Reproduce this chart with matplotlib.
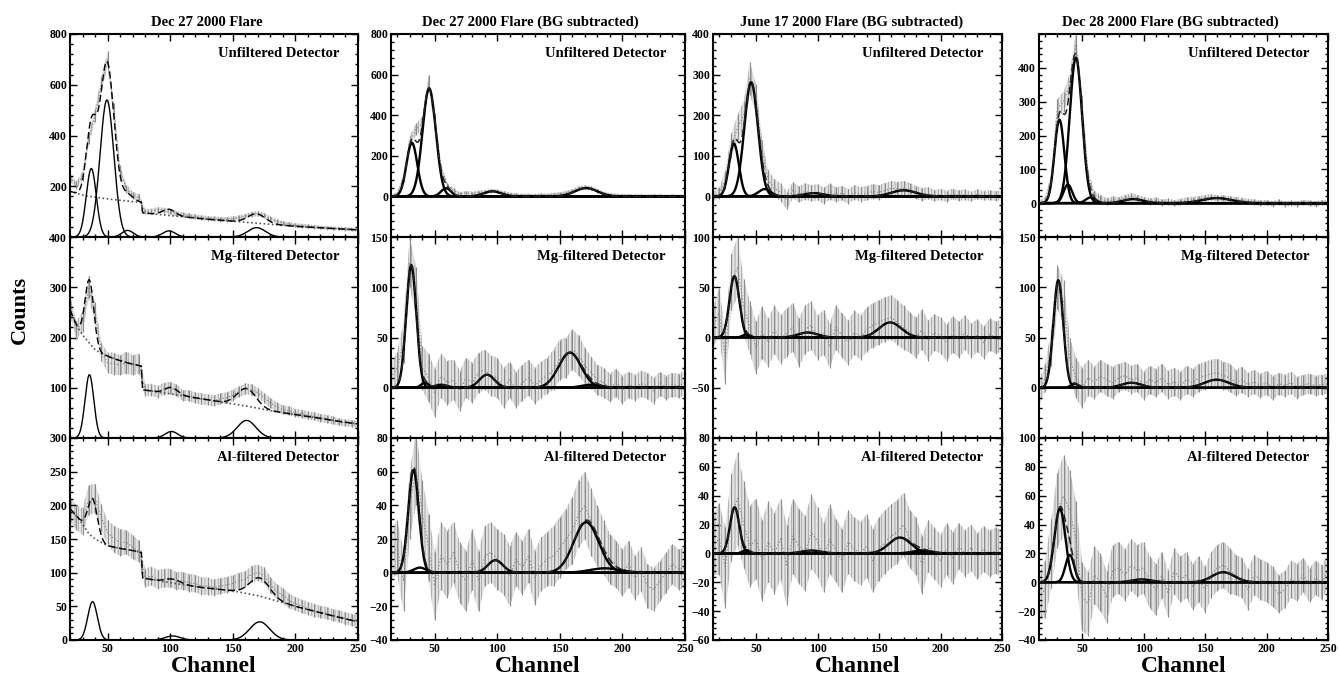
import numpy as np
import matplotlib
matplotlib.use("Agg")
import matplotlib.pyplot as plt
from matplotlib.ticker import MultipleLocator, AutoMinorLocator

plt.rcParams['font.family'] = ['Liberation Serif', 'DejaVu Serif']
plt.rcParams['font.weight'] = 'bold'
plt.rcParams['hatch.linewidth'] = 0.7
plt.rcParams['hatch.color'] = '#a8a8a8'

# channel grids of the plotted spectra
chan_a = np.arange(20, 251, 5)   # Dec 27, raw counts
chan_b = np.arange(15, 251, 5)   # background subtracted spectra

titles = ["Dec 27 2000 Flare", "Dec 27 2000 Flare (BG subtracted)",
          "June 17 2000 Flare (BG subtracted)", "Dec 28 2000 Flare (BG subtracted)"]
detectors = ["Unfiltered Detector", "Mg-filtered Detector", "Al-filtered Detector"]

# ---- Dec 27, raw counts (column 1) ----
dec27_unf = [235, 205, 240, 390, 480, 600, 700, 500, 260, 190,
             165, 155, 100, 102, 108, 105, 100, 92, 88, 84,
             80, 76, 74, 72, 70, 70, 72, 76, 82, 90,
             92, 85, 72, 62, 55, 50, 46, 44, 42, 40,
             38, 36, 34, 33, 32, 30, 28]
dec27_unf_err = [15, 15, 18, 22, 26, 30, 32, 28, 22, 16,
                 14, 14, 10, 10, 10, 10, 10, 10, 9, 9,
                 9, 9, 9, 9, 9, 9, 9, 9, 9, 10,
                 10, 10, 9, 9, 8, 8, 8, 8, 8, 7,
                 7, 7, 7, 7, 7, 7, 7]
dec27_unf_bg_ch = [20, 30, 40, 50, 60, 70, 77, 78, 100, 125, 150, 175, 200, 225, 250]
dec27_unf_bg = [180, 165, 157, 150, 145, 140, 136, 95, 85, 72, 62, 52, 42, 35, 28]
dec27_unf_lines = [(37, 270, 4.0), (49.5, 540, 5.5), (66, 26, 4.5), (99, 24, 5.0), (169, 37, 7.0)]

dec27_mg = [265, 215, 230, 300, 250, 172, 150, 148, 145, 150,
            145, 148, 95, 96, 92, 98, 100, 95, 85, 84,
            80, 78, 76, 74, 78, 80, 85, 92, 98, 96,
            90, 80, 70, 62, 56, 54, 50, 48, 45, 43,
            40, 38, 35, 32, 30, 29, 27]
dec27_mg_err = [18, 18, 20, 22, 20, 18, 20, 22, 20, 22,
                20, 20, 12, 12, 12, 12, 12, 12, 11, 11,
                11, 11, 11, 11, 11, 11, 11, 11, 11, 11,
                10, 10, 10, 9, 9, 9, 8, 8, 8, 8,
                8, 8, 8, 7, 7, 7, 7]
dec27_mg_bg_ch = [20, 25, 30, 35, 40, 45, 55, 65, 77, 78, 100, 130, 160, 183, 210, 235, 250]
dec27_mg_bg = [255, 225, 205, 190, 176, 168, 158, 150, 143, 96, 88, 76, 64, 53, 43, 33, 28]
dec27_mg_lines = [(35.5, 126, 3.5), (101, 13, 5.0), (161, 35, 7.5)]

dec27_al = [195, 182, 176, 208, 210, 182, 160, 150, 145, 145,
            138, 132, 92, 95, 90, 92, 92, 88, 88, 85,
            84, 80, 80, 78, 80, 82, 84, 88, 90, 98,
            100, 96, 82, 72, 66, 58, 54, 50, 47, 44,
            42, 40, 37, 35, 32, 30, 28]
dec27_al_err = [18, 18, 20, 22, 22, 20, 18, 20, 20, 18,
                18, 16, 14, 14, 14, 14, 14, 13, 13, 13,
                13, 13, 13, 12, 12, 12, 12, 12, 12, 12,
                12, 12, 12, 11, 11, 11, 10, 10, 10, 10,
                9, 9, 9, 9, 9, 9, 9]
dec27_al_bg_ch = [20, 25, 30, 35, 40, 50, 60, 70, 77, 78, 100, 125, 150, 170, 185, 200, 225, 250]
dec27_al_bg = [195, 185, 172, 158, 150, 140, 136, 133, 130, 92, 85, 78, 73, 66, 58, 50, 38, 27]
dec27_al_lines = [(38, 57, 3.8), (102, 6, 6.0), (171.5, 27, 8.0)]

# ---- Dec 27, background subtracted (column 2) ----
dec27s_unf = [0, 15, 90, 270, 330, 360, 560, 380, 140, 55,
              30, 12, 18, 15, 20, 22, 28, 25, 18, 10,
              8, 5, 6, 4, 8, 6, 10, 12, 18, 28,
              40, 45, 40, 28, 15, 8, 6, 4, 5, 3,
              4, 2, 4, 3, 2, 3, 2, 2]
dec27s_unf_err = [6, 8, 18, 28, 30, 32, 38, 32, 20, 12,
                  10, 9, 9, 9, 9, 9, 9, 9, 9, 9,
                  8, 8, 8, 8, 8, 8, 8, 9, 9, 10,
                  10, 10, 10, 9, 9, 8, 8, 8, 7, 7,
                  7, 7, 7, 7, 7, 7, 7, 7]
dec27s_unf_lines = [(31.7, 264, 4.3), (45.5, 532, 5.3), (59, 40, 4.0), (96, 25, 7.0), (171, 41, 9.0)]

dec27s_mg = [10, 20, 45, 125, 95, 20, 10, -5, 12, 5,
             8, -3, 10, 5, 15, 18, 12, 10, 0, 8,
             -2, 5, 10, 2, 8, 12, 18, 28, 30, 38,
             32, 22, 15, 8, 5, 0, 5, -2, 3, 0,
             4, 2, -3, 4, 0, 3, 2, 5]
dec27s_mg_err = [14, 16, 20, 25, 25, 22, 24, 24, 22, 22,
                 20, 20, 20, 20, 20, 20, 20, 20, 20, 18,
                 18, 18, 18, 18, 18, 18, 20, 20, 20, 20,
                 20, 18, 16, 15, 15, 14, 14, 14, 13, 13,
                 13, 13, 13, 12, 12, 12, 12, 12]
dec27s_mg_lines = [(31.2, 122, 4.0), (42, 5, 3.0), (55, 3, 5.0), (91.7, 13, 6.0),
                   (158, 35, 9.0), (175, 3, 8.0)]

dec27s_al = [10, 15, -5, 40, 62, 35, 15, -8, 10, 5,
             12, 0, -5, 8, -5, 10, 12, 8, 5, -2,
             8, 3, 10, -3, 5, 8, 10, 15, 20, 25,
             35, 40, 30, 22, 15, 8, 5, 0, 5, -3,
             2, -8, -10, -5, 0, 5, 2, 3]
dec27s_al_err = [14, 16, 18, 20, 22, 20, 20, 20, 20, 20,
                 18, 18, 18, 18, 18, 18, 18, 18, 18, 18,
                 16, 16, 16, 16, 16, 16, 18, 18, 18, 20,
                 20, 20, 20, 18, 16, 15, 14, 14, 14, 13,
                 13, 13, 13, 12, 12, 12, 12, 12]
dec27s_al_lines = [(33, 61, 4.2), (38, 3, 5.0), (98.4, 7.4, 6.0), (171, 30, 10.0), (186, 2.6, 12.0)]

# ---- June 17, background subtracted (column 3) ----
jun17_unf = [0, 8, 40, 125, 170, 200, 290, 240, 110, 40,
             20, 10, -10, 15, 5, 12, 8, 10, 2, 12,
             5, 8, 0, 10, 5, 8, 12, 10, 15, 20,
             18, 20, 15, 10, 5, 8, 2, 5, 0, 6,
             2, 4, 0, 5, 2, 3, 1, 3]
jun17_unf_err = [10, 14, 22, 30, 32, 34, 40, 36, 28, 24,
                 22, 22, 22, 20, 20, 20, 20, 20, 20, 20,
                 18, 18, 18, 18, 18, 18, 18, 18, 18, 18,
                 18, 18, 18, 16, 16, 15, 14, 14, 14, 13,
                 13, 13, 12, 12, 12, 12, 12, 12]
jun17_unf_lines = [(32, 130, 4.0), (46, 281, 5.5), (57, 18, 5.0), (97, 8, 8.0), (170, 15, 10.0)]

jun17_mg = [10, 25, -20, 55, 70, 30, 10, -10, 5, -5,
            8, -2, 5, 10, -5, 8, 12, 0, 5, -8,
            10, 2, -5, 5, 0, 8, 12, 15, 18, 20,
            15, 10, 5, 0, 8, -3, 5, 2, -5, 3,
            -2, 5, -3, 2, -5, 3, 0, 2]
jun17_mg_err = [20, 24, 26, 28, 30, 28, 26, 26, 26, 24,
                24, 24, 24, 24, 24, 24, 24, 22, 22, 22,
                22, 22, 22, 22, 22, 22, 22, 22, 22, 22,
                22, 22, 20, 20, 20, 20, 18, 18, 18, 18,
                18, 17, 17, 16, 16, 16, 16, 16]
jun17_mg_lines = [(32.4, 61, 4.0), (42, 3, 3.0), (92, 5, 8.0), (159, 15, 9.0)]

jun17_al = [5, 10, -10, 25, 38, 20, 5, 10, -5, 8,
            0, 10, -8, 12, 5, 0, 15, 8, -3, 10,
            2, -5, 8, 3, 0, 5, -5, 3, 8, 12,
            15, 20, 10, 5, -8, 5, 0, -5, 3, -3,
            5, 0, 4, -2, 3, 0, 2, 0]
jun17_al_err = [20, 25, 28, 30, 32, 30, 28, 28, 28, 28,
                28, 28, 28, 26, 26, 26, 26, 24, 24, 24,
                22, 22, 22, 22, 22, 22, 22, 22, 22, 22,
                22, 22, 20, 20, 20, 18, 18, 18, 18, 18,
                16, 16, 16, 16, 16, 16, 16, 16]
jun17_al_lines = [(32.6, 32, 3.8), (42, 2.3, 3.0), (95, 2, 8.0), (167, 11, 9.0), (185, 2, 8.0)]

# ---- Dec 28, background subtracted (column 4) ----
dec28_unf = [0, 8, 70, 280, 300, 350, 470, 290, 80, 25,
             15, 5, 10, 8, 15, 20, 15, 10, 5, 8,
             2, 5, 0, 4, 8, 10, 12, 15, 18, 15,
             14, 12, 10, 8, 5, 4, 0, 2, -2, 3,
             -3, 0, -2, 2, 0, -3, 2, 0]
dec28_unf_err = [8, 10, 18, 28, 30, 32, 38, 30, 18, 12,
                 10, 10, 10, 10, 10, 10, 10, 9, 9, 9,
                 9, 9, 9, 9, 9, 9, 9, 9, 9, 9,
                 9, 9, 8, 8, 8, 8, 8, 8, 8, 8,
                 8, 8, 8, 8, 8, 8, 8, 8]
dec28_unf_lines = [(31.6, 247, 4.0), (38.5, 55, 3.5), (45, 430, 5.0), (57, 17, 4.0),
                   (91.6, 12, 8.0), (159.5, 15, 12.0)]

dec28_mg = [-5, 10, 40, 100, 85, 30, 10, 0, 10, 5,
            12, 8, 5, 10, 12, 8, 10, 2, 8, 5,
            10, 3, 6, 2, 8, 5, 10, 12, 14, 15,
            12, 10, 5, 8, 3, 6, 2, 5, 0, 4,
            2, 5, 0, 3, 4, 2, 3, 4]
dec28_mg_err = [12, 14, 18, 22, 22, 20, 20, 20, 18, 16,
                16, 16, 16, 14, 14, 14, 14, 14, 14, 14,
                14, 14, 14, 14, 14, 14, 14, 14, 14, 14,
                14, 14, 13, 13, 12, 12, 12, 12, 12, 11,
                11, 11, 11, 10, 10, 10, 10, 10]
dec28_mg_lines = [(30.7, 107, 4.0), (44, 4, 3.0), (90, 5, 8.0), (159.5, 8, 10.0)]

dec28_al = [-10, -5, 20, 50, 60, 50, 30, -10, -15, 5,
            0, -10, 8, 10, 5, 12, 8, 10, 0, -5,
            5, -8, 8, 2, 5, -3, 2, -5, 5, 10,
            12, 8, 5, 3, -5, 5, 2, 0, -3, -8,
            -5, 2, 0, 5, -2, 3, 0, 8]
dec28_al_err = [16, 20, 24, 26, 28, 28, 26, 24, 22, 20,
                20, 18, 18, 18, 18, 18, 18, 18, 18, 18,
                16, 16, 16, 16, 16, 16, 16, 16, 16, 16,
                16, 16, 14, 14, 14, 14, 14, 14, 14, 13,
                13, 13, 13, 12, 12, 12, 12, 12]
dec28_al_lines = [(32, 51, 4.5), (40, 19, 3.5), (98.5, 2, 8.0), (164.8, 7, 9.0)]

# axis ranges and labelled y ticks for each panel [column][row]
ylims = [[(0, 800), (0, 400), (0, 300)],
         [(-200, 800), (-50, 150), (-40, 80)],
         [(-100, 400), (-100, 100), (-60, 80)],
         [(-100, 500), (-50, 150), (-40, 100)]]
yticks = [[[200, 400, 600, 800], [100, 200, 300, 400], [0, 50, 100, 150, 200, 250, 300]],
          [[0, 200, 400, 600, 800], [0, 50, 100, 150], [-40, -20, 0, 20, 40, 60, 80]],
          [[0, 100, 200, 300, 400], [-50, 0, 50, 100], [-60, -40, -20, 0, 20, 40, 60, 80]],
          [[0, 100, 200, 300, 400], [0, 50, 100, 150], [-40, -20, 0, 20, 40, 60, 80, 100]]]

panels = [
    [(chan_a, dec27_unf, dec27_unf_err, dec27_unf_lines, dec27_unf_bg_ch, dec27_unf_bg),
     (chan_a, dec27_mg, dec27_mg_err, dec27_mg_lines, dec27_mg_bg_ch, dec27_mg_bg),
     (chan_a, dec27_al, dec27_al_err, dec27_al_lines, dec27_al_bg_ch, dec27_al_bg)],
    [(chan_b, dec27s_unf, dec27s_unf_err, dec27s_unf_lines, None, None),
     (chan_b, dec27s_mg, dec27s_mg_err, dec27s_mg_lines, None, None),
     (chan_b, dec27s_al, dec27s_al_err, dec27s_al_lines, None, None)],
    [(chan_b, jun17_unf, jun17_unf_err, jun17_unf_lines, None, None),
     (chan_b, jun17_mg, jun17_mg_err, jun17_mg_lines, None, None),
     (chan_b, jun17_al, jun17_al_err, jun17_al_lines, None, None)],
    [(chan_b, dec28_unf, dec28_unf_err, dec28_unf_lines, None, None),
     (chan_b, dec28_mg, dec28_mg_err, dec28_mg_lines, None, None),
     (chan_b, dec28_al, dec28_al_err, dec28_al_lines, None, None)],
]

W, H = 1338, 679
fig = plt.figure(figsize=(W / 100, H / 100), dpi=100)

col_px = [(70, 358), (391, 685), (713, 1002), (1039, 1328)]
row_px = [(34, 237), (237, 438), (438, 640)]
title_x = [207, 530, 852, 1170]

for c in range(4):
    for r in range(3):
        x0, x1 = col_px[c]
        y0, y1 = row_px[r]
        ax = fig.add_axes([x0 / W, 1 - y1 / H, (x1 - x0) / W, (y1 - y0) / H])
        ch, val, err, lines, bg_ch, bg = panels[c][r]
        val = np.array(val, float)
        err = np.array(err, float)
        xlo = 20 if c == 0 else 15

        # data with error bars (grey speckled band)
        ax.fill_between(ch, val - err, val + err, facecolor='#e6e6e6', edgecolor='#a8a8a8',
                        hatch='|||||', linewidth=0.0, zorder=1)
        ax.errorbar(ch, val, yerr=err, fmt='none', ecolor='#8c8c8c', elinewidth=0.8,
                    capsize=0, zorder=2)
        ax.plot(ch, val, color='#8a8a8a', lw=0.9, ls=':', zorder=2)

        # fitted line components
        xs = np.linspace(xlo, 250, 800)
        comps = [a * np.exp(-0.5 * ((xs - c0) / s) ** 2) for c0, a, s in lines]
        total = np.sum(comps, axis=0)
        if bg is not None:
            base = np.interp(xs, bg_ch, bg)
            total = total + base
            ax.plot(xs, base, color='#555555', lw=1.2, ls=(0, (1, 1.5)), zorder=3)
            for g in comps:
                ax.plot(xs, g, color='black', lw=1.0, zorder=4)
            ax.plot(xs, total, color='black', lw=1.0, ls=(0, (5, 2.5)), zorder=4)
        else:
            for g in comps:
                ax.plot(xs, g, color='black', lw=1.7, zorder=4)
            ax.plot(xs, total, color='#222222', lw=1.1, ls=(0, (5, 2.5)), zorder=4)

        ax.set_xlim(xlo, 250)
        ax.set_ylim(*ylims[c][r])
        ax.set_yticks(yticks[c][r])
        ax.yaxis.set_minor_locator(AutoMinorLocator(5))
        ax.xaxis.set_major_locator(MultipleLocator(50))
        ax.xaxis.set_minor_locator(MultipleLocator(10))
        ax.tick_params(which='both', direction='in', top=True, right=True,
                       labelsize=8.5, pad=2, width=1)
        ax.tick_params(which='major', length=5)
        ax.tick_params(which='minor', length=2.5)
        for sp in ax.spines.values():
            sp.set_linewidth(1.5)
        if r < 2:
            ax.tick_params(labelbottom=False)
        else:
            ax.set_xticks([50, 100, 150, 200, 250])
        ax.text(0.935, 0.905, detectors[r], transform=ax.transAxes, ha='right',
                va='center', fontsize=10.5, fontweight='bold')

    fig.text(title_x[c] / W, 1 - 22 / H, titles[c], ha='center', va='center',
             fontsize=10.5, fontweight='bold')
    fig.text(((col_px[c][0] + col_px[c][1]) / 2) / W, 1 - 667 / H, "Channel",
             ha='center', va='center', fontsize=17, fontweight='bold')

fig.text(20 / W, 1 - 310 / H, "Counts", rotation=90, ha='center', va='center',
         fontsize=16, fontweight='bold')

fig.savefig("out.png", dpi=100)
